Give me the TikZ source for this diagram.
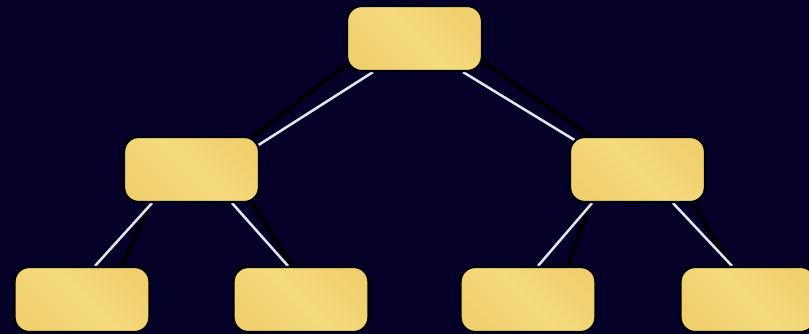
\documentclass[tikz,border=0pt]{standalone}
\usetikzlibrary{calc}

\pgfdeclarelayer{edges}
\pgfsetlayers{edges,main}

\definecolor{bgnavy}{RGB}{4,0,40}
\definecolor{boxgold}{RGB}{240,207,110}
\definecolor{boxlight}{RGB}{245,219,126}
\definecolor{linkwhite}{RGB}{228,228,234}

\begin{document}
\begin{tikzpicture}[
    x=0.75pt, y=-0.75pt,
    box/.style={draw=black, line width=1.6pt, rounded corners=11pt,
                left color=boxgold, right color=boxgold, middle color=boxlight,
                shading angle=135, inner sep=0pt,
                minimum width=101.1pt, minimum height=48.7pt},
    link/.style={draw=linkwhite, line width=1.9pt},
    backline/.style={draw=black, line width=3pt},
]

\useasboundingbox (0,0) rectangle (809,334);

\node[box] (root) at (414.5,38.5) {};
\node[box] (lchild) at (191.5,169.5) {};
\node[box] (rchild) at (637.5,169.5) {};
\node[box] (leafa) at (82,299.5) {};
\node[box] (leafb) at (301,299.5) {};
\node[box] (leafc) at (528,299.5) {};
\node[box] (leafd) at (748,299.5) {};

\begin{pgfonlayer}{edges}
\fill[bgnavy] (0,0) rectangle (809,334);

% dark lines
\draw[backline] ([shift={(0,-7)}]root.south west) -- ([shift={(-7,0)}]lchild.north east);
\draw[backline] ([shift={(0,-10)}]root.south east) -- ([shift={(21,0)}]rchild.north west);
\draw[backline] ([shift={(27,0)}]lchild.south west) -- ([shift={(40,0)}]leafa.north);
\draw[backline] ([shift={(-8,0)}]lchild.south east) -- ([shift={(-9,0)}]leafb.north);
\draw[backline] ([shift={(21,0)}]rchild.south west) -- ([shift={(40,0)}]leafc.north);
\draw[backline] ([shift={(-13,0)}]rchild.south east) -- ([shift={(-18,0)}]leafd.north);

% light lines
\draw[link] ([shift={(27,0)}]root.south west) -- ([shift={(-3,10)}]lchild.north east);
\draw[link] ([shift={(-20,0)}]root.south east) -- ([shift={(7,5)}]rchild.north west);
\draw[link] ([shift={(29,0)}]lchild.south west) -- ([shift={(13,0)}]leafa.north);
\draw[link] ([shift={(-28,0)}]lchild.south east) -- ([shift={(-13,0)}]leafb.north);
\draw[link] ([shift={(23,0)}]rchild.south west) -- ([shift={(10,0)}]leafc.north);
\draw[link] ([shift={(-33,0)}]rchild.south east) -- ([shift={(-16,0)}]leafd.north);
\end{pgfonlayer}

\end{tikzpicture}
\end{document}
